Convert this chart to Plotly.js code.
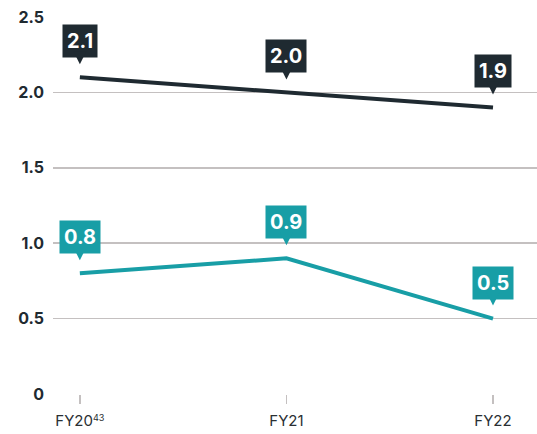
<!DOCTYPE html>
<html><head><meta charset="utf-8">
<script src="https://cdn.plot.ly/plotly-3.0.1.min.js"></script>
<style>html,body{margin:0;padding:0;background:#fff}</style>
</head><body><div id="chart" style="width:537px;height:434px"></div>
<script>
const categories = ["FY20<span style=\"font-size:13px\"><sup>43</sup></span>", "FY21", "FY22"];
const seriesTop = [2.1, 2.0, 1.9];
const seriesBottom = [0.8, 0.9, 0.5];
const yTickVals = [0, 0.5, 1.0, 1.5, 2.0, 2.5];
const yTickText = ["0", "0.5", "1.0", "1.5", "2.0", "2.5"];

const darkColor = "#1f2a31";
const tealColor = "#189ea6";
const xIdx = categories.map((c, i) => i);

const traces = [
  {x: xIdx, y: seriesTop, mode: "lines", line: {color: darkColor, width: 4}, hoverinfo: "skip"},
  {x: xIdx, y: seriesBottom, mode: "lines", line: {color: tealColor, width: 4}, hoverinfo: "skip"}
];

function callouts(vals, color) {
  return vals.map((v, i) => ({
    x: i, y: v, xref: "x", yref: "y", text: "<b>" + v.toFixed(1) + "</b>",
    showarrow: true, ax: 0, ay: -36, arrowhead: 2, arrowsize: 1.3, arrowwidth: 2,
    arrowcolor: color, standoff: 13,
    bgcolor: color, borderpad: 4, font: {family: "Inter, sans-serif", size: 20, color: "#fff"}
  }));
}

const layout = {
  width: 537, height: 434,
  margin: {l: 53, r: 0, t: 17, b: 40},
  paper_bgcolor: "#fff", plot_bgcolor: "#fff",
  showlegend: false,
  xaxis: {
    range: [-0.13, 2.213], tickvals: xIdx, ticktext: categories,
    showgrid: false, zeroline: false, showline: false,
    ticks: "outside", ticklen: 9, tickcolor: "#c4c0c0", tickwidth: 1.5,
    ticklabelstandoff: 4,
    tickfont: {family: "Inter, sans-serif", size: 15, color: "#2a2f33"}
  },
  yaxis: {
    range: [0, 2.5], tickvals: yTickVals, ticktext: yTickText,
    showgrid: true, gridcolor: "#c4c0c0", gridwidth: 1.5, zeroline: false, showline: false,
    ticks: "", ticklabelstandoff: 8,
    tickfont: {family: "Inter, sans-serif", size: 16, color: "#1f2a31", weight: 700}
  },
  annotations: callouts(seriesTop, darkColor).concat(callouts(seriesBottom, tealColor))
};
Plotly.newPlot("chart", traces, layout, {staticPlot: true, displayModeBar: false});
</script></body></html>
